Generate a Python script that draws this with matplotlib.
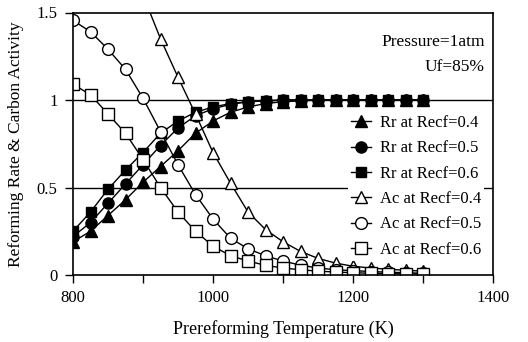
import numpy as np
import matplotlib
matplotlib.use("Agg")
import matplotlib.pyplot as plt

plt.rcParams["font.family"] = ["Liberation Serif", "DejaVu Serif"]

# prereforming temperature (K)
temp = [800, 825, 850, 875, 900, 925, 950, 975, 1000, 1025, 1050,
        1075, 1100, 1125, 1150, 1175, 1200, 1225, 1250, 1275, 1300]

# reforming rate
rr_04 = [0.19, 0.25, 0.34, 0.43, 0.53, 0.62, 0.71, 0.81, 0.88, 0.93, 0.96,
         0.98, 0.99, 0.995, 1.0, 1.0, 1.0, 1.0, 1.0, 1.0, 1.0]
rr_05 = [0.22, 0.30, 0.41, 0.52, 0.63, 0.74, 0.84, 0.91, 0.95, 0.975, 0.99,
         0.995, 1.0, 1.0, 1.0, 1.0, 1.0, 1.0, 1.0, 1.0, 1.0]
rr_06 = [0.25, 0.36, 0.49, 0.60, 0.70, 0.81, 0.88, 0.93, 0.96, 0.98, 0.99,
         0.995, 1.0, 1.0, 1.0, 1.0, 1.0, 1.0, 1.0, 1.0, 1.0]

# carbon activity (Recf=0.4 starts above the plot top)
temp_ac04 = temp[4:]
ac_04 = [1.6, 1.35, 1.13, 0.92, 0.70, 0.525, 0.36, 0.26, 0.19, 0.135, 0.095,
         0.068, 0.05, 0.04, 0.033, 0.027, 0.022]
ac_05 = [1.455, 1.39, 1.29, 1.175, 1.01, 0.82, 0.63, 0.46, 0.32, 0.21, 0.15,
         0.11, 0.08, 0.056, 0.04, 0.03, 0.025, 0.02, 0.016, 0.013, 0.01]
ac_06 = [1.09, 1.03, 0.92, 0.81, 0.66, 0.50, 0.36, 0.25, 0.165, 0.11, 0.08,
         0.055, 0.04, 0.03, 0.022, 0.017, 0.013, 0.01, 0.008, 0.006, 0.005]

fig = plt.figure(figsize=(5.28, 3.42), dpi=100)
ax = fig.add_axes([73 / 528, 1 - 275 / 342, 420 / 528, 262.5 / 342])

ax.axhline(0.5, color="black", lw=1.0, zorder=1)
ax.axhline(1.0, color="black", lw=1.0, zorder=1)

kw = dict(color="black", lw=1.0, clip_on=True)
ax.plot(temp, rr_04, marker="^", ms=8, mfc="black", label="Rr at Recf=0.4", **kw)
ax.plot(temp, rr_05, marker="o", ms=8, mfc="black", label="Rr at Recf=0.5", **kw)
ax.plot(temp, rr_06, marker="s", ms=7.5, mfc="black", label="Rr at Recf=0.6", **kw)
ax.plot(temp_ac04, ac_04, marker="^", ms=8, mfc="white", label="Ac at Recf=0.4", **kw)
ax.plot(temp, ac_05, marker="o", ms=8.5, mfc="white", label="Ac at Recf=0.5", **kw)
ax.plot(temp, ac_06, marker="s", ms=8, mfc="white", label="Ac at Recf=0.6", **kw)

ax.set_xlim(800, 1400)
ax.set_ylim(0, 1.5)
ax.set_xticks(np.arange(800, 1401, 100))
ax.set_xticklabels(["800", "", "1000", "", "1200", "", "1400"])
ax.set_yticks([0, 0.5, 1, 1.5])
ax.set_yticklabels(["0", "0.5", "1", "1.5"])
ax.tick_params(direction="out", length=6, width=1, labelsize=12,
               colors="black", pad=5)
for s in ax.spines.values():
    s.set_linewidth(1.2)

ax.set_xlabel("Prereforming Temperature (K)", fontsize=13, labelpad=10)
ax.set_ylabel("Reforming Rate & Carbon Activity", fontsize=12.5, labelpad=9)

ax.text(0.98, 1.33, "Pressure=1atm", transform=ax.get_yaxis_transform(),
        ha="right", va="center", fontsize=12.5)
ax.text(0.98, 1.19, "Uf=85%", transform=ax.get_yaxis_transform(),
        ha="right", va="center", fontsize=12.5)

leg = ax.legend(loc="upper left", bbox_to_anchor=(0.655, 0.622), frameon=True,
                fontsize=12, handlelength=1.2, handletextpad=0.5,
                labelspacing=0.56, borderpad=0.2, borderaxespad=0)
leg.get_frame().set_edgecolor("none")
leg.get_frame().set_facecolor("white")
leg.get_frame().set_alpha(1.0)

fig.savefig("out.png", dpi=100)
